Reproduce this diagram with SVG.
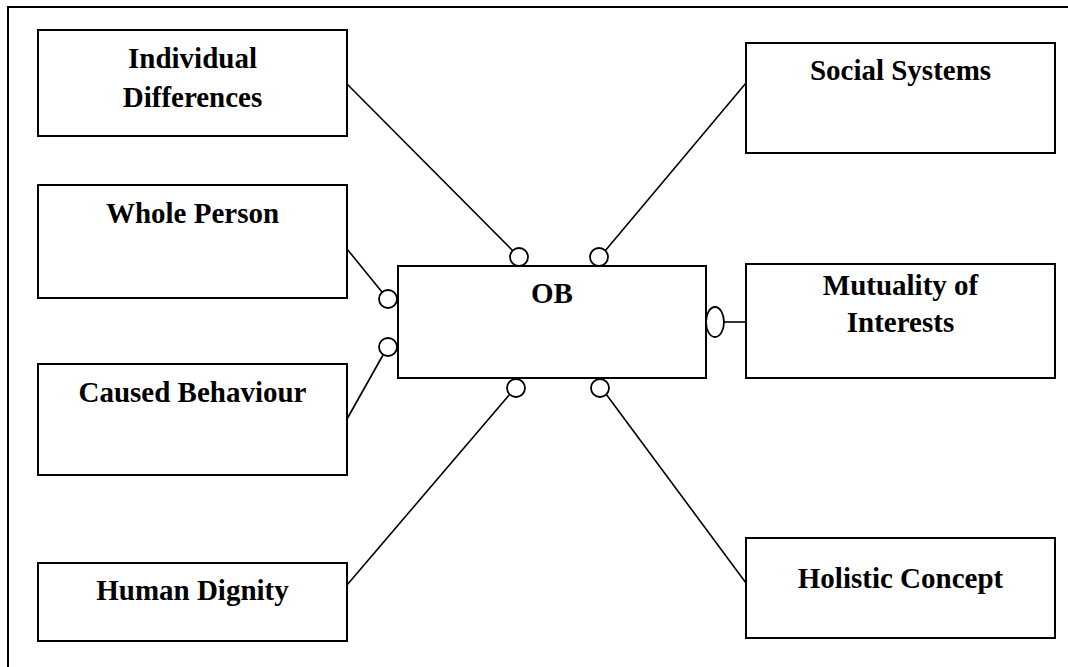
<svg xmlns="http://www.w3.org/2000/svg" width="1068" height="667" viewBox="0 0 1068 667">
<style>
.box{fill:#fff;stroke:#000;stroke-width:2}
.lbl{font-family:"Liberation Serif","Times New Roman",serif;font-weight:bold;font-size:29px;fill:#000;text-anchor:middle}
.con line{stroke:#000;stroke-width:1.6}
.end{fill:#fff;stroke:#000;stroke-width:1.8}
</style>
<rect width="1068" height="667" fill="#fff"/>
<g id="frame"><path d="M8,667 V7 H1068" fill="none" stroke="#000" stroke-width="2"/></g>
<g class="con" id="connectors">
<line x1="347" y1="84" x2="513" y2="251"/>
<line x1="746" y1="83" x2="605" y2="251"/>
<line x1="347" y1="249" x2="382" y2="292"/>
<line x1="347" y1="419" x2="383" y2="355"/>
<line x1="347" y1="585" x2="510" y2="394"/>
<line x1="746" y1="583" x2="606" y2="394"/>
<line x1="724" y1="322" x2="746" y2="322"/>
</g>
<g id="individual-differences"><rect class="box" x="38" y="30" width="309" height="106"/><text class="lbl" x="192.5" y="68">Individual</text><text class="lbl" x="192.5" y="107">Differences</text></g>
<g id="whole-person"><rect class="box" x="38" y="185" width="309" height="113"/><text class="lbl" x="192.5" y="223">Whole Person</text></g>
<g id="caused-behaviour"><rect class="box" x="38" y="364" width="309" height="111"/><text class="lbl" x="192.5" y="402">Caused Behaviour</text></g>
<g id="human-dignity"><rect class="box" x="38" y="563" width="309" height="78"/><text class="lbl" x="192.5" y="600">Human Dignity</text></g>
<g id="social-systems"><rect class="box" x="746" y="43" width="309" height="110"/><text class="lbl" x="900.5" y="80">Social Systems</text></g>
<g id="mutuality-of-interests"><rect class="box" x="746" y="264" width="309" height="114"/><text class="lbl" x="900.5" y="295">Mutuality of</text><text class="lbl" x="900.5" y="332">Interests</text></g>
<g id="holistic-concept"><rect class="box" x="746" y="538" width="309" height="100"/><text class="lbl" x="900.5" y="588">Holistic Concept</text></g>
<g id="ob"><rect class="box" x="398" y="266" width="308" height="112"/><text class="lbl" x="552" y="303">OB</text>
<circle class="end" cx="519" cy="257" r="9"/>
<circle class="end" cx="599" cy="257" r="9"/>
<circle class="end" cx="388" cy="299" r="9"/>
<circle class="end" cx="388" cy="347" r="9"/>
<circle class="end" cx="516" cy="388" r="9"/>
<circle class="end" cx="600" cy="388" r="9"/>
<ellipse class="end" cx="715" cy="322" rx="9" ry="15"/>
</g>
</svg>
